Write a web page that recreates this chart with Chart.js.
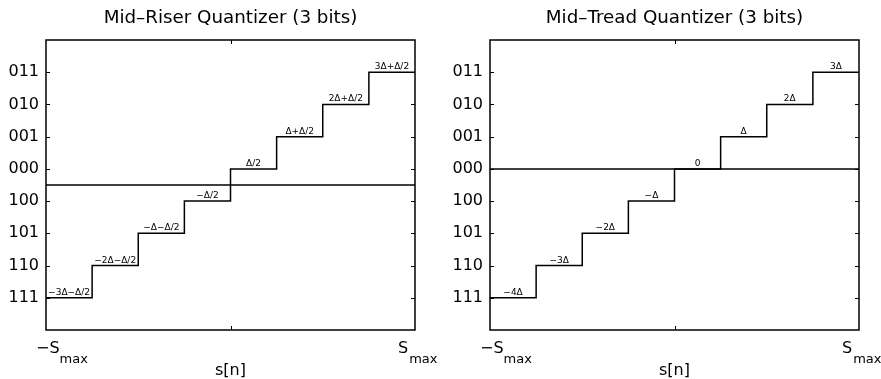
<!DOCTYPE html>
<html>
<head>
<meta charset="utf-8">
<script src="https://cdn.jsdelivr.net/npm/chart.js@4"></script>
<style>
  body { margin: 0; background: #fff; }
  #wrap { position: relative; width: 881px; height: 379px; }
  canvas { position: absolute; top: 0; }
</style>
</head>
<body>
<div id="wrap">
  <canvas id="riser" width="440" height="379" style="left:0"></canvas>
  <canvas id="tread" width="441" height="379" style="left:440px"></canvas>
</div>
<script>
// step edges on the s[n] axis (-Smax .. Smax)
const xEdges = [-4, -3, -2, -1, 0, 1, 2, 3, 4];
const codes = ['111', '110', '101', '100', '000', '001', '010', '011'];

const riserLevels = [-3.5, -2.5, -1.5, -0.5, 0.5, 1.5, 2.5, 3.5];
const riserLabels = ['−3Δ−Δ/2', '−2Δ−Δ/2', '−Δ−Δ/2', '−Δ/2', 'Δ/2', 'Δ+Δ/2', '2Δ+Δ/2', '3Δ+Δ/2'];

const treadLevels = [-4, -3, -2, -1, 0, 1, 2, 3];
const treadLabels = ['−4Δ', '−3Δ', '−2Δ', '−Δ', '0', 'Δ', '2Δ', '3Δ'];

const FONT = "'DejaVu Sans', sans-serif";

function stepPoints(levels) {
  const pts = levels.map((v, i) => ({ x: xEdges[i], y: v }));
  pts.push({ x: xEdges[xEdges.length - 1], y: levels[levels.length - 1] });
  return pts;
}

// box, inner ticks, step labels, x labels, title
const decor = {
  id: 'decor',
  afterDraw(chart, args, opts) {
    const { ctx, chartArea: a, scales } = chart;
    const xs = scales.x, ys = scales.y;
    ctx.save();
    ctx.strokeStyle = '#000';
    ctx.lineWidth = 1.5;
    ctx.strokeRect(a.left, a.top, a.right - a.left, a.bottom - a.top);

    ctx.lineWidth = 1;
    ctx.beginPath();
    opts.levels.forEach(v => {
      const y = Math.round(ys.getPixelForValue(v)) + 0.5;
      ctx.moveTo(a.left, y); ctx.lineTo(a.left + 4, y);
      ctx.moveTo(a.right, y); ctx.lineTo(a.right - 4, y);
    });
    const cx = Math.round(xs.getPixelForValue(0)) + 0.5;
    ctx.moveTo(cx, a.top); ctx.lineTo(cx, a.top + 4);
    ctx.moveTo(cx, a.bottom); ctx.lineTo(cx, a.bottom - 4);
    ctx.stroke();

    ctx.fillStyle = '#000';
    const mid = (a.left + a.right) / 2;

    // title
    ctx.font = '18.3px ' + FONT;
    ctx.textAlign = 'center';
    ctx.textBaseline = 'alphabetic';
    ctx.fillText(opts.title, mid, 23);

    // step labels
    ctx.font = '9px ' + FONT;
    opts.labels.forEach((t, i) => {
      const mx = (xs.getPixelForValue(xEdges[i]) + xs.getPixelForValue(xEdges[i + 1])) / 2;
      ctx.fillText(t, mx, ys.getPixelForValue(opts.levels[i]) - 3);
    });

    // x tick labels -S_max / S_max
    ctx.textAlign = 'left';
    const lx = a.left - 10, rx = a.right - 17;
    ctx.font = '16px ' + FONT;
    ctx.fillText('−S', lx, 353);
    const wl = ctx.measureText('−S').width;
    ctx.fillText('S', rx, 353);
    const wr = ctx.measureText('S').width;
    ctx.font = '13px ' + FONT;
    ctx.fillText('max', lx + wl, 363);
    ctx.fillText('max', rx + wr + 1, 363);

    // axis title
    ctx.font = '16px ' + FONT;
    ctx.textAlign = 'center';
    ctx.fillText('s[n]', mid, 375);
    ctx.restore();
  }
};

function makeChart(id, title, levels, labels, yMin, yMax, yWidth, padRight) {
  new Chart(document.getElementById(id), {
    type: 'line',
    data: {
      datasets: [
        {
          data: stepPoints(levels),
          stepped: 'before',
          borderColor: '#000',
          borderWidth: 1.5,
          pointRadius: 0,
          fill: false
        },
        {
          data: [{ x: xEdges[0], y: 0 }, { x: xEdges[xEdges.length - 1], y: 0 }],
          borderColor: '#000',
          borderWidth: 1.5,
          pointRadius: 0,
          fill: false
        }
      ]
    },
    options: {
      responsive: false,
      animation: false,
      devicePixelRatio: 1,
      layout: { padding: { left: 0, right: padRight, top: 40, bottom: 0 } },
      plugins: {
        legend: { display: false },
        tooltip: { enabled: false },
        title: { display: false },
        decor: { levels: levels, labels: labels, title: title }
      },
      scales: {
        x: {
          type: 'linear',
          min: -4,
          max: 4,
          grid: { display: false },
          border: { display: false },
          ticks: { display: false },
          afterFit: s => { s.height = 49; }
        },
        y: {
          min: yMin,
          max: yMax,
          grid: { display: false, drawTicks: false },
          border: { display: false },
          afterBuildTicks: s => { s.ticks = levels.map(v => ({ value: v })); },
          ticks: {
            color: '#000',
            padding: 7,
            font: { family: FONT, size: 16 },
            callback: (v) => codes[levels.indexOf(v)]
          },
          afterFit: s => { s.width = yWidth; }
        }
      }
    },
    plugins: [decor]
  });
}

makeChart('riser', 'Mid–Riser Quantizer (3 bits)', riserLevels, riserLabels, -4.5, 4.5, 46, 25);
makeChart('tread', 'Mid–Tread Quantizer (3 bits)', treadLevels, treadLabels, -5, 4, 50, 22);
</script>
</body>
</html>
